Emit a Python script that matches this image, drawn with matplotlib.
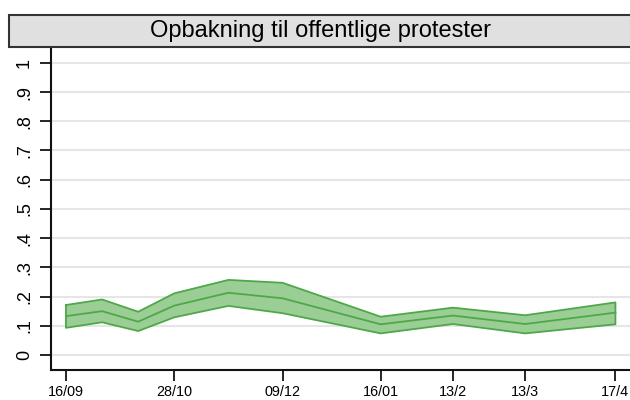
import matplotlib
matplotlib.use("Agg")
import matplotlib.pyplot as plt
from matplotlib.patches import Rectangle
import pandas as pd
import numpy as np

plt.rcParams['font.family'] = ['Liberation Sans', 'DejaVu Sans']

dates = ["2018-09-16", "2018-09-30", "2018-10-14", "2018-10-28", "2018-11-18",
         "2018-12-09", "2019-01-16", "2019-02-13", "2019-03-13", "2019-04-17"]
mean = [0.133, 0.150, 0.114, 0.169, 0.213, 0.194, 0.105, 0.135, 0.106, 0.145]
lower = [0.093, 0.112, 0.082, 0.129, 0.168, 0.143, 0.074, 0.106, 0.074, 0.105]
upper = [0.171, 0.190, 0.148, 0.211, 0.257, 0.247, 0.131, 0.162, 0.136, 0.180]
tick_dates = ["2018-09-16", "2018-10-28", "2018-12-09", "2019-01-16",
              "2019-02-13", "2019-03-13", "2019-04-17"]
tick_labels = ["16/09", "28/10", "09/12", "16/01", "13/2", "13/3", "17/4"]
yticks = [0, 0.1, 0.2, 0.3, 0.4, 0.5, 0.6, 0.7, 0.8, 0.9, 1.0]
ylabels = ["0", ".1", ".2", ".3", ".4", ".5", ".6", ".7", ".8", ".9", "1"]
title = "Opbakning til offentlige protester"

start = pd.Timestamp(dates[0])
x = np.array([(pd.Timestamp(d) - start).days for d in dates], dtype=float)
xt = np.array([(pd.Timestamp(d) - start).days for d in tick_dates], dtype=float)

fig = plt.figure(figsize=(6.3, 4.0), dpi=100)
ax = fig.add_axes([51/630, 30/400, (634-51)/630, (370-47)/400])

fill_c = '#9bce94'
line_c = '#4ea84a'
ax.fill_between(x, lower, upper, facecolor=fill_c, edgecolor='none', zorder=2)
ax.plot(np.r_[x, x[::-1], x[0]], np.r_[upper, lower[::-1], upper[0]],
        color=line_c, lw=1.3, zorder=3)
ax.plot(x, mean, color=line_c, lw=1.3, zorder=3)

ax.set_ylim(-0.0513, 1.054)
ax.set_xlim(-5.8, 220.2)
ax.set_yticks(yticks)
ax.set_yticklabels(ylabels, rotation=90, va='center', fontsize=13)
ax.set_xticks(xt)
ax.set_xticklabels(tick_labels, fontsize=10.4)
ax.grid(axis='y', color='#e6e6e6', lw=1.5, zorder=0)
ax.set_axisbelow(True)
for s in ['top', 'right']:
    ax.spines[s].set_visible(False)
for s in ['left', 'bottom']:
    ax.spines[s].set_linewidth(1.5)
    ax.spines[s].set_color('#111111')
ax.tick_params(axis='y', length=8, width=1.2, pad=5)
ax.tick_params(axis='x', length=8, width=1.2, pad=3)

fig.patches.append(Rectangle((8.5/630, 1-47/400), (634-8.5)/630, 32/400,
                             transform=fig.transFigure, facecolor='#e0e0e0',
                             edgecolor='#333333', lw=1.5, zorder=5))
fig.text(321/630, 1-31/400, title, ha='center', va='center', fontsize=17, zorder=6)

fig.savefig("out.png", dpi=100)
